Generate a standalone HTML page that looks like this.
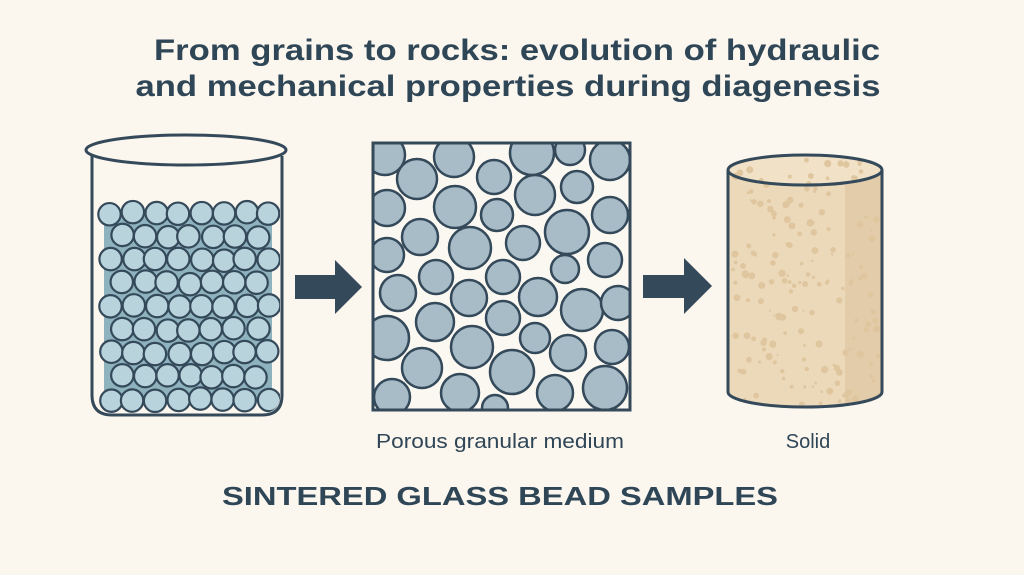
<!DOCTYPE html>
<html><head><meta charset="utf-8"><style>
html,body{margin:0;padding:0;background:#fbf6ee;}
svg{display:block}
</style></head><body>
<svg id="s" width="1024" height="575" viewBox="0 0 1024 575" xmlns="http://www.w3.org/2000/svg">
<rect width="1024" height="575" fill="#fbf6ee"/>
<g font-family="Liberation Sans, sans-serif" fill="#2f4657">
<text x="517" y="60" font-size="30" font-weight="bold" text-anchor="middle" textLength="726" lengthAdjust="spacingAndGlyphs">From grains to rocks: evolution of hydraulic</text>
<text x="508" y="96" font-size="30" font-weight="bold" text-anchor="middle" textLength="745" lengthAdjust="spacingAndGlyphs">and mechanical properties during diagenesis</text>
<text x="500" y="448" font-size="20" text-anchor="middle" textLength="248" lengthAdjust="spacingAndGlyphs">Porous granular medium</text>
<text x="808" y="448" font-size="20" text-anchor="middle">Solid</text>
<text x="500" y="505" font-size="26" font-weight="bold" text-anchor="middle" textLength="556" lengthAdjust="spacingAndGlyphs">SINTERED GLASS BEAD SAMPLES</text>
</g>
<defs>
<clipPath id="bk"><path d="M94 156 L94 395 Q94 413 112 413 L262 413 Q280 413 280 395 L280 156 Z"/></clipPath>
<clipPath id="sq"><rect x="373" y="143" width="257" height="267"/></clipPath>
<clipPath id="cy"><path d="M728 170 L728 392 A77 15 0 0 0 882 392 L882 170 A77 15 0 0 0 728 170 Z"/></clipPath>
</defs>
<!-- beaker -->
<g id="beads" clip-path="url(#bk)"></g>
<path d="M92 156 L92 395 Q92 415 112 415 L262 415 Q282 415 282 395 L282 156" fill="none" stroke="#34495a" stroke-width="3"/>
<ellipse cx="186" cy="150" rx="100" ry="15" fill="none" stroke="#34495a" stroke-width="3"/>
<!-- arrows -->
<path d="M295 275 L335 275 L335 260 L362 287 L335 314 L335 299 L295 299 Z" fill="#34495a"/>
<path d="M643 275 L684 275 L684 258 L712 286 L684 314 L684 298 L643 298 Z" fill="#34495a"/>
<!-- square -->
<rect x="373" y="143" width="257" height="267" fill="#fbf8f2"/>
<g id="grains" clip-path="url(#sq)" fill="#a7bcc7" stroke="#34495a" stroke-width="2.5"></g>
<rect x="373" y="143" width="257" height="267" fill="none" stroke="#34495a" stroke-width="3"/>
<!-- cylinder -->
<g clip-path="url(#cy)">
<rect x="720" y="150" width="170" height="270" fill="#ecd9ba"/>
<rect x="845" y="150" width="40" height="270" fill="#e3cca9"/>
<ellipse cx="805" cy="170" rx="77" ry="15" fill="#f1e1c6"/>
<g id="dots" fill="#dfc69f"></g>
</g>
<path d="M728 170 L728 392 A77 15 0 0 0 882 392 L882 170" fill="none" stroke="#34495a" stroke-width="3"/>
<ellipse cx="805" cy="170" rx="77" ry="15" fill="none" stroke="#34495a" stroke-width="3"/>
</svg>
<script>
var NS="http://www.w3.org/2000/svg";
function c(g,x,y,r,a){var e=document.createElementNS(NS,"circle");e.setAttribute("cx",x);e.setAttribute("cy",y);e.setAttribute("r",r);if(a)for(var k in a)e.setAttribute(k,a[k]);g.appendChild(e);}
var seed=7;function rnd(){seed=(seed*16807)%2147483647;return seed/2147483647;}
var b=document.getElementById("beads");
var bg=document.createElementNS(NS,"rect");bg.setAttribute("x",104);bg.setAttribute("y",212);bg.setAttribute("width",168);bg.setAttribute("height",190);bg.setAttribute("fill","#8fb2bf");b.appendChild(bg);
for(var row=0;row<9;row++){var y=213+row*23.3;var off=(row%2)?11:0;for(var col=0;col<8;col++){var x=111+off+col*22.5;if(x>272)continue;c(b,x+(rnd()-.5)*3,y+(rnd()-.5)*3,11.2,{fill:"#b8d3dc",stroke:"#34495a","stroke-width":"2.2"});}}
var G=[[385,155,20],[417,179,20],[454,157,20],[494,177,17],[532,153,22],[570,150,15],[610,160,20],[387,208,18],[455,207,21],[497,215,16],[535,195,20],[577,187,16],[610,215,18],[420,237,18],[470,248,21],[523,243,17],[567,232,22],[387,255,17],[436,277,17],[503,277,17],[565,269,14],[605,260,17],[398,293,18],[469,298,18],[538,297,19],[582,310,21],[618,303,17],[435,322,19],[503,318,17],[387,338,22],[472,347,21],[535,338,15],[568,353,18],[612,347,17],[422,368,20],[512,372,22],[392,397,18],[460,393,19],[495,408,13],[555,393,18],[605,388,22]];
var g=document.getElementById("grains");G.forEach(function(p){c(g,p[0],p[1],p[2]);});
var d=document.getElementById("dots");seed=11;
for(var i=0;i<170;i++){var x=733+rnd()*145,y=160+rnd()*245;c(d,x,y,1+rnd()*2.8);}
</script>
</body></html>
